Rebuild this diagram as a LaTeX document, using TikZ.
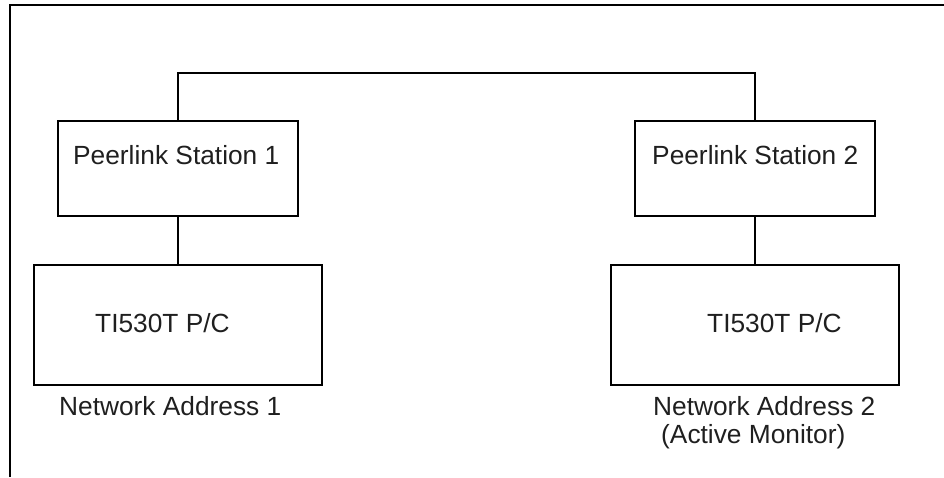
\documentclass[tikz,border=0pt]{standalone}
\usepackage{fontspec}
\setmainfont{Liberation Sans}
\usetikzlibrary{positioning}
\tikzset{
  station/.style={draw, line width=2pt, minimum width=240pt, minimum height=95pt, inner sep=0pt},
  plc/.style={draw, line width=2pt, minimum width=288pt, minimum height=120pt, inner sep=0pt},
  lbl/.style={inner sep=0pt, anchor=base west, text=black!88, font=\fontsize{26.3}{31}\selectfont},
  wire/.style={line width=2pt},
}
\begin{document}
\begin{tikzpicture}[x=1pt,y=-1pt]
\useasboundingbox (0,0) rectangle (944,477);
\draw[wire] (10,477) -- (10,5) -- (944,5); % outer frame

\node[station] (ps1) at (178,168.5) {};
\node[station] (ps2) at (755,168.5) {};
\node[plc] (plc1) at (178,325) {};
\node[plc] (plc2) at (755,325) {};

\node[lbl] (ps1txt) at (73,164) {Peerlink Station 1};
\node[lbl] (ps2txt) at (652,164) {Peerlink Station 2};
\node[lbl] (plc1txt) at (95,332) {TI530T P/C};
\node[lbl] (plc2txt) at (707,332) {TI530T P/C};
\node[lbl] (addr1) at (59,415) {Network Address 1};
\node[lbl] (addr2) at (653,415) {Network Address 2};
\node[lbl] (monitor) at (661,443) {(Active Monitor)};

\coordinate (bus) at (466,73);
\draw[wire] (ps1.north) |- (bus) -| (ps2.north);
\draw[wire] (ps1) -- (plc1);
\draw[wire] (ps2) -- (plc2);
\end{tikzpicture}
\end{document}
